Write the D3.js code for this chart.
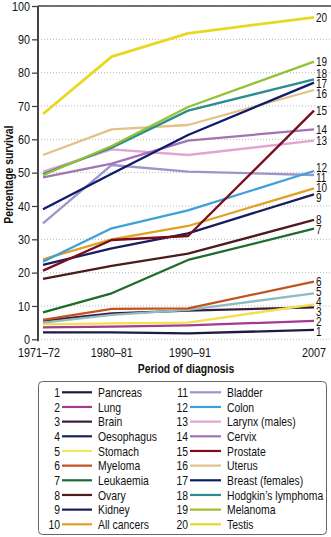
<!DOCTYPE html>
<html>
<head>
<meta charset="utf-8">
<script src="https://cdn.jsdelivr.net/npm/d3@7"></script>
<style>
  html, body { margin: 0; padding: 0; background: #fff; }
  svg { display: block; }
  text { font-family: "Liberation Sans", Arial, sans-serif; fill: #111; }
</style>
</head>
<body>
<svg id="chart" width="331" height="537"></svg>
<script>
// ------------------- Data -------------------
const periods = ["1971–72", "1980–81", "1990–91", "2007"];
const periodYears = [1971.5, 1980.5, 1990.5, 2007];

const cancers = [
  "Pancreas", "Lung", "Brain", "Oesophagus", "Stomach",
  "Myeloma", "Leukaemia", "Ovary", "Kidney", "All cancers",
  "Bladder", "Colon", "Larynx (males)", "Cervix", "Prostate",
  "Uterus", "Breast (females)", "Hodgkin’s lymphoma", "Melanoma", "Testis"
];

// survival (%) per period, one row per cancer
const survival = [
  [2.1, 2.1, 1.8, 2.8],
  [3.6, 3.8, 4.2, 5.5],
  [5.5, 7.8, 8.6, 9.6],
  [4.5, 4.8, 5.0, 10.5],
  [5.0, 7.3, 8.8, 13.8],
  [5.8, 9.1, 9.3, 17.3],
  [8.1, 13.8, 23.8, 33.2],
  [18.1, 22.0, 25.7, 35.8],
  [22.3, 27.3, 31.8, 43.5],
  [24.0, 30.0, 34.0, 45.3],
  [34.8, 52.3, 50.3, 49.3],
  [23.3, 33.3, 38.7, 50.5],
  [50.3, 57.0, 55.3, 59.6],
  [48.6, 52.7, 59.6, 63.0],
  [20.6, 29.8, 31.0, 68.6],
  [55.3, 63.0, 64.3, 74.8],
  [39.0, 49.7, 61.3, 77.0],
  [49.6, 57.5, 68.6, 78.0],
  [49.2, 58.0, 69.7, 83.3],
  [67.6, 84.8, 91.8, 96.6]
];

const yTicks = [0, 10, 20, 30, 40, 50, 60, 70, 80, 90, 100];

// line colours as drawn, and key swatch colours
const lineColors = [
  "#1d1b3e", "#a13d8e", "#3b1c3d", "#f3e04a", "#8fbcc2",
  "#c3531d", "#1f6b2c", "#4d1b1b", "#1b1c5c", "#e0a224",
  "#9d94cb", "#3ea1d9", "#e3a4d2", "#a274b3", "#7a0c1c",
  "#e2c285", "#0d1c6c", "#2b8d8d", "#93c233", "#e9d823"
];
const keyColors = [
  "#1d1b3e", "#a13d8e", "#3b1c3d", "#1b2152", "#f3e85a",
  "#c3531d", "#1f6b2c", "#4d1b1b", "#1b1c5c", "#e0a224",
  "#9d94cb", "#3ea1d9", "#e3a4d2", "#a274b3", "#7a0c1c",
  "#e2c285", "#0d1c6c", "#2b8d8d", "#a8b82e", "#e9d823"
];

// ------------------- Setup -------------------
const svg = d3.select("#chart");
const plot = { left: 38, top: 6, right: 331, bottom: 339.3 };

// no narrow face installed, so squeeze text horizontally
const K = 0.8;
function narrow(sel) {
  sel.each(function () {
    const t = d3.select(this);
    const xv = +t.attr("x") || 0;
    t.attr("x", xv / K).attr("transform", `scale(${K},1)`);
  });
}

const x = d3.scaleLinear()
  .domain([periodYears[0], periodYears[3]])
  .range([43, 314]);

const y = d3.scaleLinear()
  .domain([0, 100])
  .range([plot.bottom, plot.top]);

// ------------------- Grid + axes -------------------
svg.append("g")
  .selectAll("line")
  .data(yTicks)
  .join("line")
    .attr("x1", plot.left)
    .attr("x2", plot.right)
    .attr("y1", d => y(d))
    .attr("y2", d => y(d))
    .attr("stroke", "#b8b8b8")
    .attr("stroke-width", 1)
    .attr("stroke-dasharray", "1,2");

const yAxis = svg.append("g")
  .attr("transform", `translate(${plot.left},0)`)
  .call(d3.axisLeft(y).tickValues(yTicks).tickSize(6).tickPadding(2));
yAxis.select(".domain").remove();
yAxis.selectAll(".tick line").attr("stroke", "#444").attr("stroke-width", 1.3);
yAxis.selectAll(".tick text")
  .attr("font-family", null)
  .attr("font-size", 13.5)
  .attr("fill", "#111")
  .call(narrow);

// frame: left axis and top rule
svg.append("line")
  .attr("x1", plot.left).attr("x2", plot.left)
  .attr("y1", plot.top).attr("y2", plot.bottom + 2)
  .attr("stroke", "#444").attr("stroke-width", 2);
svg.append("line")
  .attr("x1", plot.left).attr("x2", plot.right)
  .attr("y1", plot.top).attr("y2", plot.top)
  .attr("stroke", "#444").attr("stroke-width", 1.5);

// period labels
svg.append("g")
  .selectAll("text")
  .data(periods)
  .join("text")
    .attr("x", (d, i) => x(periodYears[i]) - (i === 0 ? 4 : 0) + (i === 2 ? 2 : 0))
    .attr("y", 357)
    .attr("text-anchor", "middle")
    .attr("font-size", 13.5)
    .text(d => d)
    .call(narrow);

svg.append("text")
  .attr("x", 186)
  .attr("y", 373)
  .attr("text-anchor", "middle")
  .attr("font-size", 13)
  .attr("font-weight", "bold")
  .text("Period of diagnosis")
  .call(narrow);

svg.append("text")
  .attr("transform", `translate(13, ${(plot.top + plot.bottom) / 2 + 2}) rotate(-90) scale(${K},1)`)
  .attr("text-anchor", "middle")
  .attr("font-size", 13)
  .attr("font-weight", "bold")
  .text("Percentage survival");

// ------------------- Lines -------------------
const line = d3.line()
  .x((d, i) => x(periodYears[i]))
  .y(d => y(d));

svg.append("g")
  .selectAll("path")
  .data(survival)
  .join("path")
    .attr("d", line)
    .attr("fill", "none")
    .attr("stroke", (d, i) => lineColors[i])
    .attr("stroke-width", (d, i) => i === 19 ? 2.8 : 2.3)
    .attr("stroke-linejoin", "round");

// ------------------- End labels -------------------
// start at each line's last value, then nudge apart so they don't overlap
const minGap = 10;
const ends = survival.map((v, i) => ({ n: i + 1, y: y(v[3]) }))
  .sort((a, b) => a.y - b.y);
for (let k = 0; k < 100; k++) {
  for (let j = 1; j < ends.length; j++) {
    const gap = ends[j].y - ends[j - 1].y;
    if (gap < minGap) {
      const s = (minGap - gap) / 2;
      ends[j].y += s;
      ends[j - 1].y -= s;
    }
  }
}

svg.append("g")
  .selectAll("text")
  .data(ends)
  .join("text")
    .attr("x", 316)
    .attr("y", d => d.y)
    .attr("dy", "0.35em")
    .attr("font-size", 12.5)
    .text(d => d.n)
    .call(narrow);

// ------------------- Key -------------------
const key = svg.append("g");
key.append("rect")
  .attr("x", 38.5).attr("y", 381.5)
  .attr("width", 288).attr("height", 153)
  .attr("rx", 4)
  .attr("fill", "#fff")
  .attr("stroke", "#666")
  .attr("stroke-width", 1);

const rowY = d3.scaleLinear().domain([0, 9]).range([392.3, 524.3]);
const cols = [
  { num: 60, x1: 62, x2: 92, label: 98 },
  { num: 188, x1: 190, x2: 221, label: 227 }
];

const rows = key.selectAll("g.row")
  .data(cancers)
  .join("g")
    .attr("class", "row")
    .attr("transform", (d, i) => `translate(0, ${rowY(i % 10)})`);

rows.append("text")
  .attr("x", (d, i) => cols[Math.floor(i / 10)].num)
  .attr("dy", "0.35em")
  .attr("text-anchor", "end")
  .attr("font-size", 13)
  .text((d, i) => i + 1)
  .call(narrow);

rows.append("line")
  .attr("x1", (d, i) => cols[Math.floor(i / 10)].x1)
  .attr("x2", (d, i) => cols[Math.floor(i / 10)].x2)
  .attr("stroke", (d, i) => keyColors[i])
  .attr("stroke-width", 2.2);

rows.append("text")
  .attr("x", (d, i) => cols[Math.floor(i / 10)].label)
  .attr("dy", "0.35em")
  .attr("font-size", 13)
  .text(d => d)
  .call(narrow);
</script>
</body>
</html>
